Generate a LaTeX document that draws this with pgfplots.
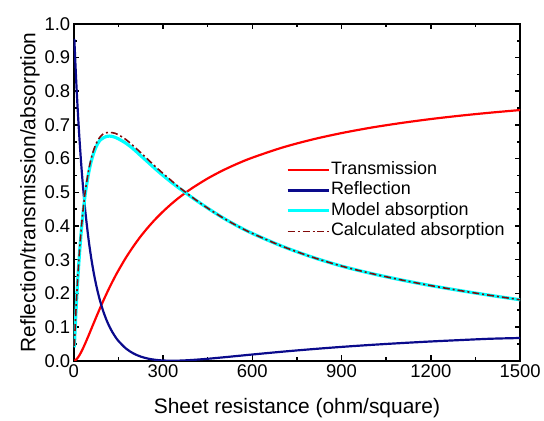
\documentclass[border=0pt]{standalone}
\usepackage{fontspec}
\setmainfont{Liberation Sans}
\usepackage{pgfplots}
\usepackage{pgfplotstable}
\pgfplotsset{compat=1.18}

\definecolor{tcol}{RGB}{255,0,0}
\definecolor{rcol}{RGB}{10,10,140}
\definecolor{mcol}{RGB}{0,255,255}
\definecolor{ccol}{RGB}{130,10,10}

% Rs  T  R  model  calculated
\pgfplotstableread{
Rs T R Am Ac
2 0.0002 0.9558 0.040 0.044
4 0.0009 0.9140 0.081 0.085
6 0.0020 0.8744 0.118 0.124
8 0.0034 0.8368 0.154 0.160
10 0.0051 0.8013 0.187 0.194
12 0.0072 0.7675 0.218 0.225
15 0.0107 0.7200 0.262 0.269
20 0.0177 0.6484 0.326 0.334
25 0.0258 0.5852 0.381 0.389
30 0.0347 0.5290 0.428 0.436
35 0.0443 0.4791 0.468 0.477
40 0.0543 0.4345 0.503 0.511
50 0.0751 0.3589 0.557 0.565
60 0.0965 0.2977 0.596 0.605
70 0.1179 0.2478 0.624 0.633
80 0.1389 0.2068 0.644 0.653
90 0.1595 0.1729 0.656 0.666
100 0.1794 0.1447 0.662 0.674
110 0.1986 0.1211 0.666 0.677
120 0.2171 0.1013 0.667 0.678
130 0.2348 0.0848 0.666 0.677
140 0.2518 0.0708 0.663 0.675
150 0.2679 0.0589 0.659 0.671
175 0.3055 0.0366 0.646 0.657
200 0.3391 0.0219 0.629 0.638
225 0.3694 0.0123 0.609 0.618
250 0.3964 0.0062 0.589 0.597
275 0.4209 0.0026 0.569 0.576
300 0.4430 0.0007 0.550 0.556
325 0.4632 0.0000 0.532 0.537
350 0.4817 0.0002 0.515 0.518
375 0.4983 0.0011 0.499 0.501
400 0.5138 0.0024 0.483 0.484
450 0.5412 0.0058 0.453 0.453
500 0.5647 0.0099 0.425 0.425
550 0.5851 0.0142 0.400 0.400
600 0.6029 0.0185 0.378 0.378
700 0.6327 0.0268 0.340 0.340
800 0.6565 0.0343 0.308 0.308
900 0.6759 0.0411 0.281 0.281
1000 0.6922 0.0471 0.259 0.259
1100 0.7058 0.0524 0.240 0.240
1200 0.7176 0.0572 0.223 0.223
1300 0.7277 0.0614 0.208 0.208
1400 0.7365 0.0653 0.194 0.194
1500 0.7443 0.0675 0.181 0.181
}\datatab

\begin{document}
\begin{tikzpicture}
\begin{axis}[name=ax,
  scale only axis, width=448pt, height=338pt,
  xmin=0, xmax=1500, ymin=0, ymax=1.0,
  xtick={0,300,...,1500}, ytick={0,0.1,...,1.0},
  minor x tick num=1, minor y tick num=1,
  major tick length=5.5pt, minor tick length=3.5pt,
  axis line style={line width=2pt},
  every tick/.style={black, line width=1.6pt},
  /pgf/number format/assume math mode=true,
  /pgf/number format/1000 sep={},
  yticklabel style={/pgf/number format/.cd, fixed, fixed zerofill, precision=1},
  tick label style={font=\fontsize{18.5}{20}\selectfont},
  label style={font=\fontsize{21}{24}\selectfont},
  xlabel={Sheet resistance (ohm/square)},
  xlabel style={yshift=-14pt},
  ylabel={Reflection/transmission/absorption},
  ylabel style={yshift=-2pt},
  legend image code/.code={\draw[#1] (0pt,0pt) -- (42pt,0pt);},
  legend cell align=left,
  legend style={at={(0.475,0.592)}, anchor=north west, draw=none, fill=none,
    inner sep=0pt, row sep=3.5pt, font=\fontsize{18}{20}\selectfont,
    nodes={inner sep=0pt, text height=13pt, text depth=4pt},
    /tikz/every even column/.append style={column sep=4pt}},
]
\addplot[tcol, line width=2.2pt, smooth] table[x=Rs, y=T] {\datatab};
\addlegendentry{Transmission}
\addplot[rcol, line width=2.2pt, smooth] table[x=Rs, y=R] {\datatab};
\addlegendentry{Reflection}
\addplot[mcol, line width=3.2pt, smooth] table[x=Rs, y=Am] {\datatab};
\addlegendentry{Model absorption}
\addplot[ccol, line width=1.6pt, smooth, dash pattern=on 7pt off 3pt on 2pt off 3pt] table[x=Rs, y=Ac] {\datatab};
\addlegendentry{Calculated absorption}
\end{axis}
\path[use as bounding box] ([xshift=-74pt,yshift=-58pt]ax.south west) rectangle ([xshift=22pt,yshift=24pt]ax.north east);
\end{tikzpicture}
\end{document}
